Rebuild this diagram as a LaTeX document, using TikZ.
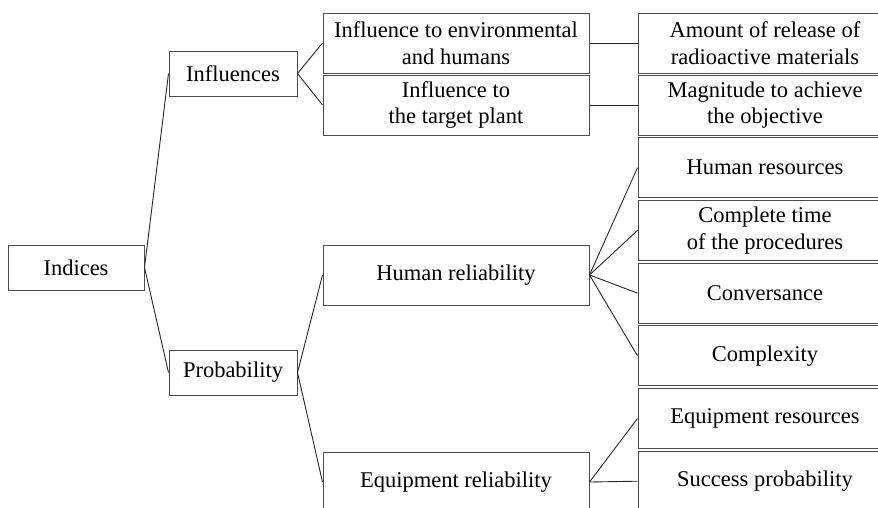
\documentclass[tikz,border=0pt]{standalone}
\usepackage{fontspec}
\setmainfont{Liberation Serif}
\usepackage{tikz}
\usetikzlibrary{positioning}
\tikzstyle{block} = [draw=black!70, line width=1pt, rectangle, align=center,
    inner sep=0pt, font=\fontsize{22.5}{26.5}\selectfont]
\tikzstyle{top} = [block, minimum width=136pt, minimum height=45pt]
\tikzstyle{cat} = [block, minimum width=128pt, minimum height=45pt]
\tikzstyle{mid} = [block, minimum width=266pt, minimum height=60pt]
\tikzstyle{leaf} = [block, minimum width=254pt, minimum height=60pt]
\tikzstyle{link} = [line width=0.9pt, black!85]

\begin{document}
\begin{tikzpicture}[x=1pt, y=1pt]
		\useasboundingbox (0,0) rectangle (878,-507);
		\clip (0,0) rectangle (878,-507);

		\node[top] (indices) at (76,-267.5) {Indices};
		\node[cat] (influences) at (233,-73.5) {Influences};
		\node[cat] (probability) at (233,-372.5) {Probability};

		\node[mid] (envhum) at (456,-43) {Influence to environmental\\and humans};
		\node[mid, below=1pt of envhum] (plant) {Influence to\\the target plant};
		\node[mid] (humrel) at (456,-275) {Human reliability};
		\node[mid] (eqrel) at (456,-482) {Equipment reliability};

		\node[leaf] (release) at (765,-43) {Amount of release of\\radioactive materials};
		\node[leaf, below=1pt of release] (magnitude) {Magnitude to achieve\\the objective};
		\node[leaf, below=1.7pt of magnitude] (humres) {Human resources};
		\node[leaf, below=1.7pt of humres] (comptime) {Complete time\\of the procedures};
		\node[leaf, below=1.7pt of comptime] (convers) {Conversance};
		\node[leaf, below=1.7pt of convers] (complex) {Complexity};
		\node[leaf, below=1.7pt of complex] (eqres) {Equipment resources};
		\node[leaf, below=1.7pt of eqres] (success) {Success probability};

		\draw[link] (indices.east) to (influences.west);
		\draw[link] (indices.east) to (probability.west);

		\draw[link] (influences.east) to (envhum.west);
		\draw[link] (influences.east) to (plant.west);
		\draw[link] (probability.east) to (humrel.west);
		\draw[link] (probability.east) to (eqrel.west);

		\draw[link] (envhum.east) to (release.west);
		\draw[link] (plant.east) to (magnitude.west);
		\draw[link] (humrel.east) to (humres.west);
		\draw[link] (humrel.east) to (comptime.west);
		\draw[link] (humrel.east) to (convers.west);
		\draw[link] (humrel.east) to (complex.west);
		\draw[link] (eqrel.east) to (eqres.west);
		\draw[link] (eqrel.east) to (success.west);
	\end{tikzpicture}
\end{document}
